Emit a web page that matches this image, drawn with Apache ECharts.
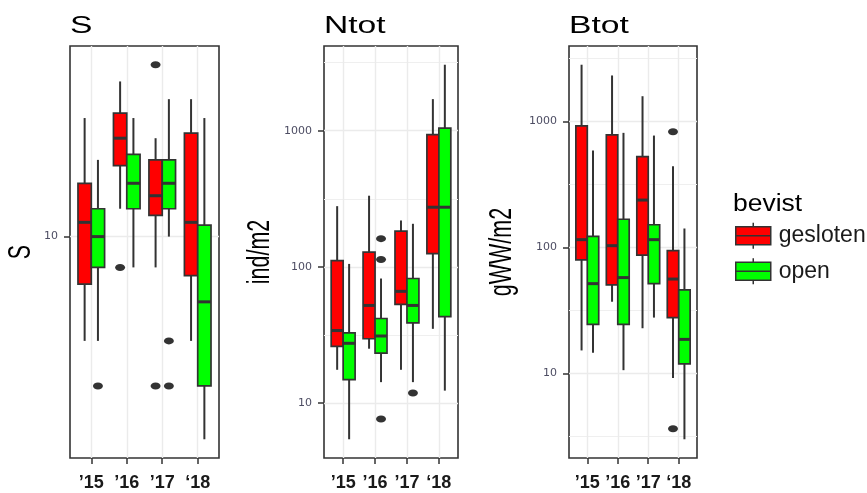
<!DOCTYPE html>
<html>
<head>
<meta charset="utf-8">
<script src="https://cdn.jsdelivr.net/npm/echarts@6/dist/echarts.min.js"></script>
<style>
  html, body { margin: 0; padding: 0; background: #ffffff; }
  #chart { width: 867px; height: 493px; }
</style>
</head>
<body>
<div id="chart"></div>
<script>
// Survey years on the x axis of every panel
const years = ['’15', '’16', '’17', '‘18'];
const groups = ['gesloten', 'open'];

// Box statistics per year: [min whisker, Q1, median, Q3, max whisker]
// S (species richness)
const sGesloten = [[7, 8.5, 10.5, 12, 15], [11, 12.75, 14, 15.25, 17], [9, 10.75, 11.5, 13, 14], [7, 8.75, 10.5, 14.25, 16]];
const sOpen     = [[7, 9, 10, 11, 13], [9, 11, 12, 13.25, 15], [10, 11, 12, 13, 16], [5, 6, 8, 10.4, 15]];
// outliers as [year number (1-4), value]
const sOutGesloten = [[2, 9], [3, 18], [3, 6]];
const sOutOpen     = [[1, 6], [3, 7], [3, 6]];

// Ntot (ind/m2)
const nGesloten = [[17.5, 26, 34, 111, 279], [25, 29.6, 52, 128, 333], [17.5, 53, 66, 183, 219], [35, 125, 274, 935, 1707]];
const nOpen     = [[5.4, 14.8, 27.4, 32.7, 105], [14.2, 23.2, 31, 41.7, 82], [14.2, 38.7, 52, 82, 207], [12.3, 43, 274, 1045, 3055]];
const nOutGesloten = [];
const nOutOpen     = [[2, 161], [2, 113], [2, 7.6], [3, 11.8]];

// Btot (gWW/m2)
const bGesloten = [[15.2, 79.6, 115, 919, 2808], [37, 50.3, 103, 780, 2308], [22.8, 86.7, 237, 524, 1580], [9.2, 27.7, 56, 94, 439]];
const bOpen     = [[14.6, 24.5, 51.5, 122, 585], [10.6, 24.5, 57.5, 167, 809], [27.7, 51.5, 115, 151, 770], [3.0, 11.9, 18.6, 46, 141]];
const bOutGesloten = [[4, 824], [4, 3.63]];
const bOutOpen     = [];

// Axis breaks (log10 scale) and the half-decade minor grid lines
const sTicks = [10];
const sMinor = [];
const nTicks = [10, 100, 1000];
const nMinor = [31.6228, 316.228, 3162.28];
const bTicks = [10, 100, 1000];
const bMinor = [3.16228, 31.6228, 316.228, 3162.28];

const COLORS = { gesloten: '#ff0000', open: '#00ff00' };
const INK = '#333333';
const GRID_LINE = '#ebebeb';
const BOX_WIDTH = 0.375;   // in x-axis units
const DODGE = 0.1875;
const FONT = '"Liberation Sans", Arial, sans-serif';

const panels = [
  { title: 'S', yName: 'S', gesloten: sGesloten, open: sOpen, outG: sOutGesloten, outO: sOutOpen, ticks: sTicks, minor: sMinor,
    rect: { left: 70, top: 46, width: 149, height: 412 }, titleX: 70, yNameX: 21 },
  { title: 'Ntot', yName: 'ind/m2', gesloten: nGesloten, open: nOpen, outG: nOutGesloten, outO: nOutOpen, ticks: nTicks, minor: nMinor,
    rect: { left: 324, top: 46, width: 134, height: 412 }, titleX: 324, yNameX: 260 },
  { title: 'Btot', yName: 'gWW/m2', gesloten: bGesloten, open: bOpen, outG: bOutGesloten, outO: bOutOpen, ticks: bTicks, minor: bMinor,
    rect: { left: 569, top: 46, width: 128, height: 412 }, titleX: 569, yNameX: 502 }
];

// Log-scale limits: data range widened by 5% on each side (in log space)
function logLimits(p) {
  const vals = [];
  p.gesloten.concat(p.open).forEach(r => r.forEach(v => vals.push(v)));
  p.outG.concat(p.outO).forEach(o => vals.push(o[1]));
  const lo = Math.log10(Math.min.apply(null, vals));
  const hi = Math.log10(Math.max.apply(null, vals));
  const pad = (hi - lo) * 0.05;
  return [Math.pow(10, lo - pad), Math.pow(10, hi + pad)];
}

function boxRenderer(dodge) {
  return function (params, api) {
    const x = api.value(0) + dodge;
    const pMax = api.coord([x, api.value(5)]);
    const pQ3 = api.coord([x, api.value(4)]);
    const pMed = api.coord([x, api.value(3)]);
    const pQ1 = api.coord([x, api.value(2)]);
    const pMin = api.coord([x, api.value(1)]);
    const left = api.coord([x - BOX_WIDTH / 2, api.value(3)])[0];
    const right = api.coord([x + BOX_WIDTH / 2, api.value(3)])[0];
    const whisker = { stroke: INK, lineWidth: 2 };
    return {
      type: 'group',
      children: [
        { type: 'line', shape: { x1: pMax[0], y1: pMax[1], x2: pQ3[0], y2: pQ3[1] }, style: whisker },
        { type: 'line', shape: { x1: pQ1[0], y1: pQ1[1], x2: pMin[0], y2: pMin[1] }, style: whisker },
        { type: 'rect', shape: { x: left, y: pQ3[1], width: right - left, height: pQ1[1] - pQ3[1] },
          style: { fill: api.visual('color'), stroke: INK, lineWidth: 1.7 } },
        { type: 'line', shape: { x1: left, y1: pMed[1], x2: right, y2: pMed[1] }, style: { stroke: INK, lineWidth: 3 } }
      ]
    };
  };
}

const grid = [], xAxis = [], yAxis = [], series = [], graphic = [];

panels.forEach((p, i) => {
  const lim = logLimits(p);
  grid.push(Object.assign({ show: true, borderColor: INK, borderWidth: 1.6, backgroundColor: '#ffffff' }, p.rect));

  xAxis.push({
    gridIndex: i, type: 'value', min: 0.4, max: 4.6,
    axisLine: { show: false },
    axisTick: { show: true, customValues: [1, 2, 3, 4], length: 6, lineStyle: { color: INK, width: 1.5 } },
    axisLabel: {
      customValues: [1, 2, 3, 4], margin: 16,
      formatter: v => years[Math.round(v) - 1],
      fontFamily: FONT, fontWeight: 'bold', fontSize: 18, color: '#1a1a1a'
    },
    splitLine: { show: true, lineStyle: { color: GRID_LINE, width: 1.4 } }
  });

  const majorIndex = yAxis.length;
  yAxis.push({
    gridIndex: i, type: 'log', logBase: 10, min: lim[0], max: lim[1],
    axisLine: { show: false },
    axisTick: { show: true, customValues: p.ticks, length: 6, lineStyle: { color: INK, width: 1.5 } },
    axisLabel: {
      customValues: p.ticks, margin: 12,
      formatter: v => String(Math.round(v)),
      fontFamily: '"DejaVu Sans", sans-serif', fontSize: 11, color: '#4d4d63'
    },
    splitLine: { show: true, lineStyle: { color: GRID_LINE, width: 1.4 } }
  });
  if (p.minor.length) {
    yAxis.push({
      gridIndex: i, type: 'log', logBase: 10, min: lim[0], max: lim[1], position: 'left',
      axisLine: { show: false },
      axisTick: { show: false, customValues: p.minor },
      axisLabel: { show: false, customValues: p.minor },
      splitLine: { show: true, lineStyle: { color: '#efefef', width: 1 } }
    });
  }

  groups.forEach((g, gi) => {
    const dodge = gi === 0 ? -DODGE : DODGE;
    series.push({
      name: g, type: 'custom', xAxisIndex: i, yAxisIndex: majorIndex,
      itemStyle: { color: COLORS[g] },
      encode: { x: 0, y: [1, 2, 3, 4, 5] },
      renderItem: boxRenderer(dodge),
      data: p[g].map((r, k) => [k + 1].concat(r)),
      z: 3
    });
    const outs = gi === 0 ? p.outG : p.outO;
    series.push({
      name: g + ' uitschieters', type: 'scatter', xAxisIndex: i, yAxisIndex: majorIndex,
      symbol: 'circle', symbolSize: [10, 7],
      itemStyle: { color: INK, opacity: 1 },
      data: outs.map(o => [o[0] + dodge, o[1]]),
      z: 4
    });
  });

  graphic.push({
    type: 'text', x: p.titleX, y: 26, scaleX: 1.4,
    style: { text: p.title, fill: '#000000', fontFamily: FONT, fontSize: 24,
             align: 'left', verticalAlign: 'middle' }
  });
  graphic.push({
    type: 'text', x: p.yNameX, y: 252, rotation: Math.PI / 2, scaleY: 1.5,
    style: { text: p.yName, fill: '#000000', fontFamily: FONT, fontSize: 21.5,
             align: 'center', verticalAlign: 'middle' }
  });
});

graphic.push({
  type: 'text', x: 733, y: 205, scaleX: 1.15,
  style: { text: 'bevist', fill: '#000000', fontFamily: FONT, fontSize: 23,
           align: 'left', verticalAlign: 'middle' }
});

const chart = echarts.init(document.getElementById('chart'), null, { renderer: 'canvas' });
chart.setOption({
  animation: false,
  backgroundColor: '#ffffff',
  grid: grid,
  xAxis: xAxis,
  yAxis: yAxis,
  series: series,
  graphic: graphic,
  legend: {
    data: groups,
    orient: 'vertical', left: 735, top: 222, padding: 0,
    itemWidth: 35, itemHeight: 26, itemGap: 8,
    icon: 'path://M0,4 L35,4 L35,22 L0,22 Z M17.5,0 L17.5,4 M17.5,22 L17.5,26 M0,13 L35,13',
    itemStyle: { borderColor: INK, borderWidth: 1.5 },
    textStyle: { fontSize: 23, color: '#1a1a1a', fontFamily: FONT, padding: [0, 0, 0, 3] },
    selectedMode: false
  }
});
</script>
</body>
</html>
